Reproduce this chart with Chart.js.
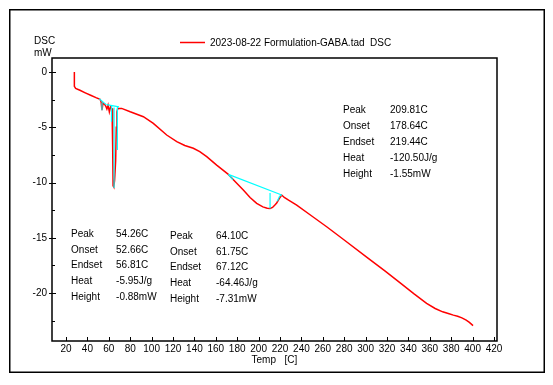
<!DOCTYPE html>
<html>
<head>
<meta charset="utf-8">
<script src="https://cdn.jsdelivr.net/npm/chart.js@4.4.1/dist/chart.umd.min.js"></script>
<style>
  html, body { margin: 0; padding: 0; background: #fff; }
</style>
</head>
<body>
<canvas id="dscChart" width="553" height="385"></canvas>
<script>
// DSC run: temperature (C) vs heat flow (mW)
var temp = [27.8, 27.8, 29, 33, 38, 43, 48, 51.8, 52.8, 53.6,
            54.5, 56, 57.2, 58.2, 59.3, 60.5, 61.6, 62.4, 63.0, 63.6,
            64.0, 64.6, 65.4, 66.4, 67.0, 67.6, 68.2, 69, 72, 80,
            92.3, 101.6, 114.1, 123.5, 131, 139, 145, 151.5, 160.8, 171.7,
            178, 185.7, 192, 198.2, 204, 208, 210.7, 213, 215, 216.9,
            219.3, 221.6, 224, 228, 235.6, 250, 263.6, 280, 302.5, 318,
            332, 345, 357, 365, 372, 378, 382, 386, 390, 394,
            397, 400.4];
var dsc = [0, -1.3, -1.48, -1.65, -1.88, -2.1, -2.32, -2.47, -2.7, -3.44,
           -2.85, -2.9, -3.1, -3.35, -3.0, -3.6, -3.15, -3.25, -3.3, -6.8,
           -10.3, -10.4, -9.8, -8.0, -5.0, -3.6, -3.35, -3.3, -3.29, -3.6,
           -4.04, -4.65, -5.7, -6.3, -6.65, -6.9, -7.2, -7.66, -8.42, -9.26,
           -9.9, -10.68, -11.35, -11.89, -12.2, -12.33, -12.34, -12.25, -12.05, -11.85,
           -11.45, -11.13, -11.35, -11.6, -12.04, -13.05, -14.0, -15.2, -16.86, -18.0,
           -19.05, -20.05, -20.93, -21.4, -21.7, -21.88, -22.0, -22.1, -22.25, -22.45,
           -22.65, -22.95];

// baselines / peak markers from the analysis (null = break)
var baseTemp = [51, 57.5, null, 53.6, 53.6, null, 58, 69.5, null, 62.5, 62.5, null,
                64.9, 64.9, null, 68, 68, null, 171.7, 221.6, null, 210.7, 210.7, null,
                171.7, 176, null, 217.5, 219.5, 221.6];
var baseDsc = [-2.42, -2.95, null, -2.75, -3.45, null, -2.95, -3.15, null, -3.1, -4.5, null,
               -3.2, -10.5, null, -3.15, -7.05, null, -9.26, -11.13, null, -10.95, -12.34, null,
               -9.26, -9.75, null, -11.7, -11.25, -11.13];

var xTicks = [20, 40, 60, 80, 100, 120, 140, 160, 180, 200, 220, 240, 260, 280, 300, 320, 340, 360, 380, 400, 420];
var yTicks = [0, -5, -10, -15, -20];
var yMinor = [-2.5, -7.5, -12.5, -17.5, -22.5];

var seriesName = '2023-08-22 Formulation-GABA.tad  DSC';
var resultNames = ['Peak', 'Onset', 'Endset', 'Heat', 'Height'];
var result1 = ['54.26C', '52.66C', '56.81C', '-5.95J/g', '-0.88mW'];
var result2 = ['64.10C', '61.75C', '67.12C', '-64.46J/g', '-7.31mW'];
var result3 = ['209.81C', '178.64C', '219.44C', '-120.50J/g', '-1.55mW'];

var FONT = '10px "Liberation Sans", Arial, sans-serif';
var RED = '#ff0000';

function pts(xs, ys) {
    return xs.map(function(t, i) { return { x: t, y: ys[i] }; });
}

// result tables placed at a temperature / dsc anchor
var blocks = [
    { at: [24.7, -14.66], gap: 45, step: 15.8, values: result1 },
    { at: [117.2, -14.84], gap: 46, step: 15.8, values: result2 },
    { at: [278.9, -3.44], gap: 47, step: 16, values: result3 }
];

var decor = {
    id: 'decor',
    afterDraw: function(chart) {
        var ctx = chart.ctx, a = chart.chartArea;
        var xs = chart.scales.x, ys = chart.scales.y;
        ctx.save();
        ctx.strokeStyle = '#000';

        // outer frame
        ctx.lineWidth = 1.5;
        ctx.strokeRect(9.75, 9.75, 534.5, 362.5);
        // plot box
        ctx.lineWidth = 1.5;
        ctx.strokeRect(a.left, a.top, a.right - a.left, a.bottom - a.top);

        // inward tick marks
        ctx.lineWidth = 1;
        ctx.beginPath();
        xTicks.forEach(function(v) {
            var px = Math.round(xs.getPixelForValue(v)) + 0.5;
            ctx.moveTo(px, a.bottom); ctx.lineTo(px, a.bottom - 4);
        });
        yTicks.forEach(function(v) {
            var py = Math.round(ys.getPixelForValue(v)) + 0.5;
            ctx.moveTo(a.left - 3, py); ctx.lineTo(a.left + 4, py);
        });
        yMinor.forEach(function(v) {
            var py = Math.round(ys.getPixelForValue(v)) + 0.5;
            ctx.moveTo(a.left, py); ctx.lineTo(a.left + 3, py);
        });
        ctx.stroke();

        ctx.font = FONT;
        ctx.fillStyle = '#000';
        ctx.textBaseline = 'middle';
        ctx.textAlign = 'left';

        // axis titles
        ctx.fillText('DSC', a.left - 18, a.top - 17);
        ctx.fillText('mW', a.left - 18, a.top - 5);
        var cx = (a.left + a.right) / 2;
        ctx.fillText('Temp', cx - 23, a.bottom + 19);
        ctx.fillText('[C]', cx + 10, a.bottom + 19);

        // legend
        ctx.strokeStyle = RED;
        ctx.lineWidth = 1.5;
        ctx.beginPath();
        ctx.moveTo(180, a.top - 15.5); ctx.lineTo(205, a.top - 15.5);
        ctx.stroke();
        ctx.fillText(seriesName, 210, a.top - 15);

        // result tables
        blocks.forEach(function(b) {
            var bx = xs.getPixelForValue(b.at[0]);
            var by = ys.getPixelForValue(b.at[1]);
            resultNames.forEach(function(n, i) {
                ctx.fillText(n, bx, by + i * b.step);
                ctx.fillText(b.values[i], bx + b.gap, by + i * b.step);
            });
        });
        ctx.restore();
    }
};

new Chart(document.getElementById('dscChart').getContext('2d'), {
    type: 'line',
    data: {
        datasets: [
            {
                label: seriesName,
                data: pts(temp, dsc),
                borderColor: RED,
                borderWidth: 1.5,
                pointRadius: 0,
                tension: 0,
                order: 1
            },
            {
                label: 'baseline',
                data: pts(baseTemp, baseDsc),
                borderColor: '#00ffff',
                borderWidth: 1.2,
                pointRadius: 0,
                spanGaps: false,
                tension: 0,
                order: 0
            }
        ]
    },
    options: {
        responsive: false,
        animation: false,
        devicePixelRatio: 1,
        layout: { padding: { left: 10, right: 56, top: 58, bottom: 10 } },
        plugins: { legend: { display: false }, tooltip: { enabled: false } },
        scales: {
            x: {
                type: 'linear',
                min: 6.9,
                max: 422.8,
                afterFit: function(s) { s.height = 34; },
                afterBuildTicks: function(s) { s.ticks = xTicks.map(function(v) { return { value: v }; }); },
                grid: { display: false, drawTicks: false },
                border: { display: false },
                ticks: { font: { family: '"Liberation Sans", Arial', size: 10 }, color: '#000', padding: 2, maxRotation: 0, autoSkip: false }
            },
            y: {
                type: 'linear',
                min: -24.34,
                max: 1.27,
                afterFit: function(s) { s.width = 42; },
                afterBuildTicks: function(s) { s.ticks = yTicks.map(function(v) { return { value: v }; }); },
                grid: { display: false, drawTicks: false },
                border: { display: false },
                ticks: { font: { family: '"Liberation Sans", Arial', size: 10 }, color: '#000', padding: 5 }
            }
        }
    },
    plugins: [decor]
});
</script>
</body>
</html>
